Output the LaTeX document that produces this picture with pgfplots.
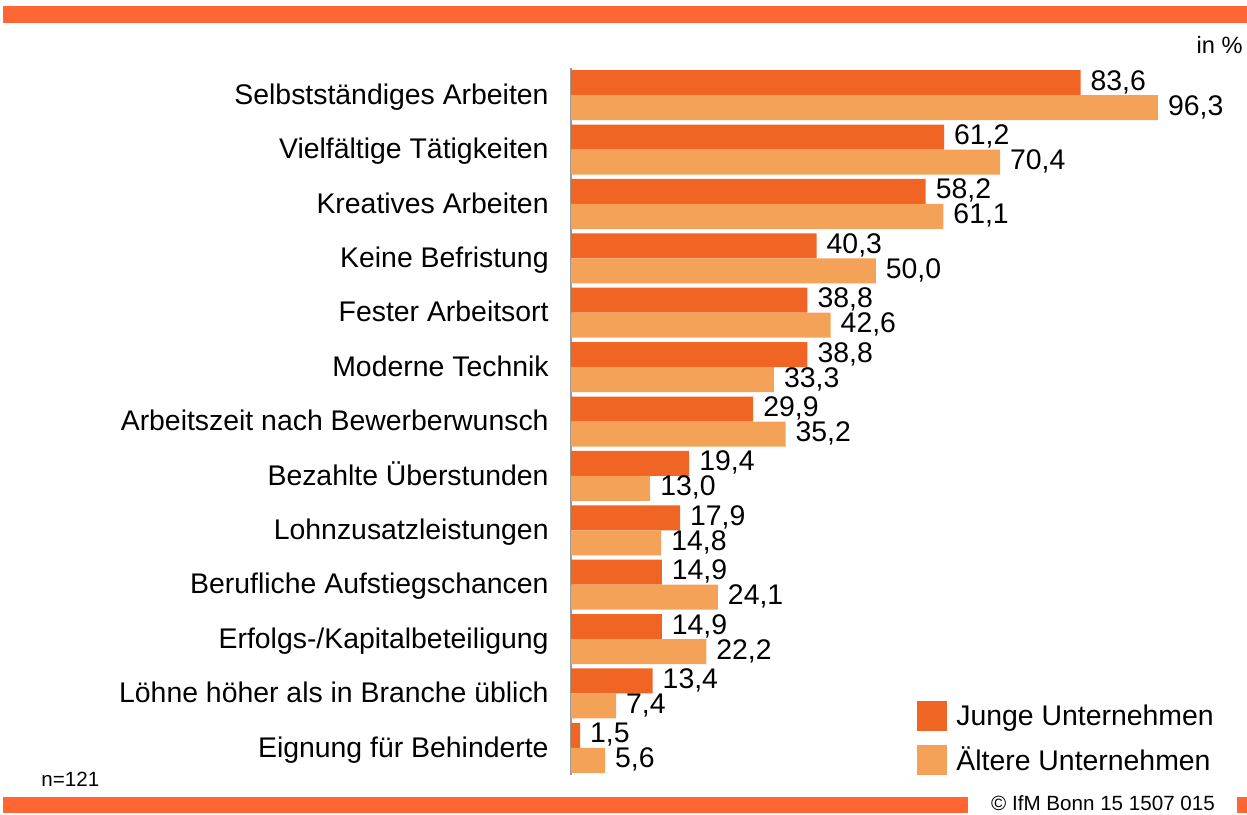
\documentclass[border=0pt]{standalone}
\usepackage{pgfplots}
\pgfplotsset{compat=1.18}
\usepackage{fontspec}
\setmainfont{Liberation Sans}
\definecolor{band}{HTML}{FF6633}
\definecolor{jung}{HTML}{F06424}
\definecolor{alt}{HTML}{F4A258}
\begin{document}
\begin{tikzpicture}
\path[use as bounding box] (0,0) rectangle (623.5pt,407pt);
\fill[band] (1.5pt,395.5pt) rectangle (623.5pt,404pt);
\fill[band] (1.5pt,0.5pt) rectangle (484pt,8.5pt);
\fill[band] (618.5pt,0.5pt) rectangle (623.5pt,8.5pt);
\node[font=\fontsize{10.3}{12}\selectfont] at (551.5pt,5.5pt) {\textcopyright{} IfM Bonn 15 1507 015};
\node[font=\fontsize{10.3}{12}\selectfont,anchor=west,inner sep=0pt] at (20.5pt,17.5pt) {n=121};
\node[font=\fontsize{11.8}{14}\selectfont,anchor=east,inner sep=0pt] at (621.5pt,384.5pt) {in \%};
\begin{axis}[
  at={(285.5pt,19.5pt)}, anchor=south west,
  width=304.75pt, height=353.5pt, scale only axis,
  xbar, bar width=12.5pt,
  xmin=0, xmax=100, ymin=-0.5, ymax=12.5,
  y dir=reverse,
  enlargelimits=false,
  axis x line=none,
  axis y line=left,
  y axis line style={-, draw=gray!80, line width=1pt},
  ytick={0,...,12},
  major tick length=0pt,
  yticklabels={Selbstständiges Arbeiten, Vielfältige Tätigkeiten, Kreatives Arbeiten, Keine Befristung, Fester Arbeitsort, Moderne Technik, Arbeitszeit nach Bewerberwunsch, Bezahlte Überstunden, Lohnzusatzleistungen, Berufliche Aufstiegschancen, Erfolgs-/Kapitalbeteiligung, Löhne höher als in Branche üblich, Eignung für Behinderte},
  yticklabel style={font=\fontsize{14.2}{17}\selectfont, inner sep=0pt, xshift=-11pt, yshift=-4.6pt, anchor=base east},
  nodes near coords,
  nodes near coords style={font=\fontsize{14.2}{16}\selectfont, anchor=base west, xshift=1.5pt, yshift=-3.75pt, text=black},
  /pgf/number format/.cd, fixed, fixed zerofill, precision=1, use comma, assume math mode=true,
  /pgfplots/.cd,
  legend style={draw=none, fill=none, at={(axis description cs:0.5677,0.106)}, anchor=north west,
    font=\fontsize{14.2}{17}\selectfont, row sep=5.5pt, inner sep=0pt,
    nodes={inner sep=2pt},
    /tikz/every odd column/.append style={column sep=2.5pt}},
  legend cell align=left,
]
\addplot[fill=jung, draw=none, bar shift=6.25pt,
  legend image code/.code={\fill[jung] (0pt,-7.5pt) rectangle (15pt,7.5pt);}]
  coordinates {(83.6,0) (61.2,1) (58.2,2) (40.3,3) (38.8,4) (38.8,5) (29.9,6) (19.4,7) (17.9,8) (14.9,9) (14.9,10) (13.4,11) (1.5,12)};
\addplot[fill=alt, draw=none, bar shift=-6.25pt,
  legend image code/.code={\fill[alt] (0pt,-7.5pt) rectangle (15pt,7.5pt);}]
  coordinates {(96.3,0) (70.4,1) (61.1,2) (50.0,3) (42.6,4) (33.3,5) (35.2,6) (13.0,7) (14.8,8) (24.1,9) (22.2,10) (7.4,11) (5.6,12)};
\legend{Junge Unternehmen, Ältere Unternehmen}
\end{axis}
\end{tikzpicture}
\end{document}
